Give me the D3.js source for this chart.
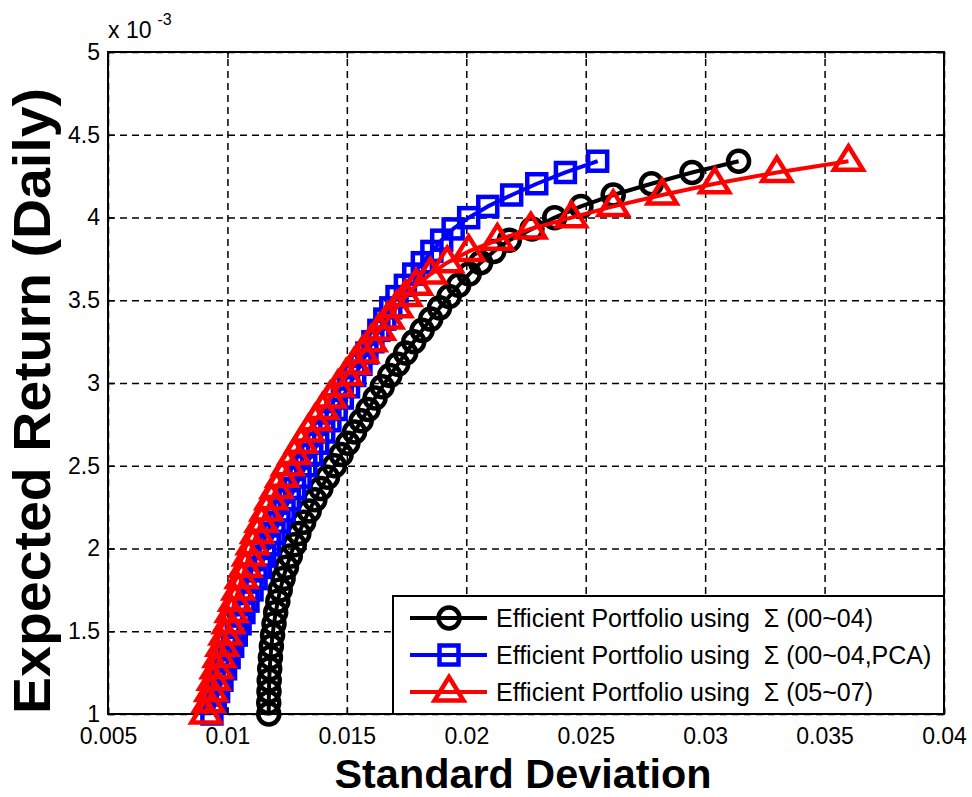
<!DOCTYPE html>
<html>
<head>
<meta charset="utf-8">
<script src="https://cdn.jsdelivr.net/npm/d3@7"></script>
<style>
  body { margin: 0; background: #fff; }
  svg { display: block; font-family: "Liberation Sans", Arial, sans-serif; }
  .grid line { stroke: #000; stroke-width: 1.5; stroke-dasharray: 7, 5; }
  .grid path, .ticks path { display: none; }
  .ticks line { stroke: #000; stroke-width: 1.5; }
  .ticks text { font-size: 23px; fill: #000; font-family: "Liberation Sans", Arial, sans-serif; }
</style>
</head>
<body>
<div id="chart"></div>
<script>
// Target returns (daily), shared by all three frontiers.
const returns = [
  0.001000, 0.001068, 0.001136, 0.001204, 0.001273, 0.001341, 0.001409, 0.001477, 0.001545, 0.001613,
  0.001682, 0.001750, 0.001818, 0.001886, 0.001954, 0.002022, 0.002091, 0.002159, 0.002227, 0.002295,
  0.002363, 0.002431, 0.002500, 0.002568, 0.002636, 0.002704, 0.002772, 0.002840, 0.002909, 0.002977,
  0.003045, 0.003113, 0.003181, 0.003249, 0.003318, 0.003386, 0.003454, 0.003522, 0.003590, 0.003658,
  0.003727, 0.003795, 0.003863, 0.003931, 0.003999, 0.004067, 0.004136, 0.004204, 0.004272, 0.004340
];

// Standard deviation, Σ (00~04)
const sdSigma0004 = [
  0.01173, 0.01173, 0.01174, 0.01175, 0.01177, 0.01180, 0.01184, 0.01189, 0.01195, 0.01202,
  0.01211, 0.01221, 0.01233, 0.01247, 0.01263, 0.01280, 0.01299, 0.01319, 0.01342, 0.01366,
  0.01391, 0.01419, 0.01448, 0.01476, 0.01504, 0.01532, 0.01560, 0.01589, 0.01618, 0.01648,
  0.01680, 0.01713, 0.01746, 0.01780, 0.01815, 0.01851, 0.01888, 0.01928, 0.01968, 0.02012,
  0.02060, 0.02115, 0.02180, 0.02275, 0.02370, 0.02480, 0.02615, 0.02775, 0.02945, 0.03140
];

// Standard deviation, Σ (00~04,PCA)
const sdSigmaPCA = [
  0.00935, 0.00949, 0.00963, 0.00977, 0.00992, 0.01007, 0.01022, 0.01037, 0.01053, 0.01069,
  0.01086, 0.01103, 0.01120, 0.01138, 0.01156, 0.01175, 0.01195, 0.01216, 0.01237, 0.01259,
  0.01281, 0.01304, 0.01328, 0.01353, 0.01378, 0.01403, 0.01429, 0.01455, 0.01481, 0.01507,
  0.01533, 0.01559, 0.01584, 0.01609, 0.01634, 0.01659, 0.01684, 0.01710, 0.01745, 0.01780,
  0.01816, 0.01856, 0.01897, 0.01945, 0.02010, 0.02090, 0.02190, 0.02295, 0.02415, 0.02550
];

// Standard deviation, Σ (05~07)
const sdSigma0507 = [
  0.00910, 0.00921, 0.00932, 0.00943, 0.00955, 0.00967, 0.00979, 0.00992, 0.01005, 0.01018,
  0.01032, 0.01046, 0.01060, 0.01075, 0.01090, 0.01106, 0.01124, 0.01143, 0.01163, 0.01184,
  0.01206, 0.01229, 0.01253, 0.01280, 0.01308, 0.01337, 0.01367, 0.01398, 0.01430, 0.01463,
  0.01497, 0.01531, 0.01565, 0.01600, 0.01635, 0.01671, 0.01708, 0.01746, 0.01790, 0.01850,
  0.01920, 0.02010, 0.02130, 0.02270, 0.02440, 0.02615, 0.02820, 0.03040, 0.03300, 0.03600
];

const seriesNames = [
  "Efficient Portfolio using  \u03A3 (00~04)",
  "Efficient Portfolio using  \u03A3 (00~04,PCA)",
  "Efficient Portfolio using  \u03A3 (05~07)"
];
const seriesColors = ["#000000", "#0000ff", "#ff0000"];
const seriesMarkers = ["circle", "square", "triangle"];

const xTicks = [0.005, 0.01, 0.015, 0.02, 0.025, 0.03, 0.035, 0.04];
const yTicks = [0.001, 0.0015, 0.002, 0.0025, 0.003, 0.0035, 0.004, 0.0045, 0.005];
const yTickLabels = ["1", "1.5", "2", "2.5", "3", "3.5", "4", "4.5", "5"];

// Dimensions of chart.
let margin = { top: 52, right: 28, bottom: 83, left: 108 },
  width = 972 - margin.left - margin.right,
  height = 797 - margin.top - margin.bottom;

let root = d3
  .select("#chart")
  .append("svg")
  .attr("width", width + margin.left + margin.right)
  .attr("height", height + margin.top + margin.bottom);

let svg = root
  .append("g")
  .attr("transform", "translate(" + margin.left + "," + margin.top + ")");

// Scales
let x = d3.scaleLinear().domain([0.005, 0.04]).range([0, width]);
let y = d3.scaleLinear().domain([0.001, 0.005]).range([height, 0]);

// Grid (dashed)
svg
  .append("g")
  .attr("class", "grid")
  .attr("transform", "translate(0," + height + ")")
  .call(d3.axisBottom(x).tickValues(xTicks).tickSize(-height).tickFormat(""));
svg
  .append("g")
  .attr("class", "grid")
  .call(d3.axisLeft(y).tickValues(yTicks).tickSize(-width).tickFormat(""));

// Inward ticks + labels
svg
  .append("g")
  .attr("class", "ticks")
  .attr("transform", "translate(0," + height + ")")
  .call(d3.axisBottom(x).tickValues(xTicks).tickSize(-6).tickPadding(14).tickFormat((d) => String(d)));
svg
  .append("g")
  .attr("class", "ticks")
  .call(d3.axisTop(x).tickValues(xTicks).tickSize(-6).tickFormat(""));
svg
  .append("g")
  .attr("class", "ticks")
  .call(
    d3.axisLeft(y).tickValues(yTicks).tickSize(-6).tickPadding(8)
      .tickFormat((d, i) => yTickLabels[i])
  );
svg
  .append("g")
  .attr("class", "ticks")
  .attr("transform", "translate(" + width + ",0)")
  .call(d3.axisRight(y).tickValues(yTicks).tickSize(-6).tickFormat(""));

// Axes box
svg
  .append("rect")
  .attr("width", width)
  .attr("height", height)
  .attr("fill", "none")
  .attr("stroke", "#000")
  .attr("stroke-width", 2);

// Exponent label
let expo = root
  .append("text")
  .attr("x", margin.left)
  .attr("y", 38)
  .style("font-size", "23px")
  .text("x 10");
expo
  .append("tspan")
  .attr("dx", 6)
  .attr("dy", -13)
  .style("font-size", "16px")
  .text("-3");

// Marker drawing
function addMarker(sel, kind, color) {
  if (kind === "circle") {
    sel.append("circle").attr("r", 10.5);
  } else if (kind === "square") {
    sel.append("rect").attr("x", -9.5).attr("y", -9.5).attr("width", 19).attr("height", 19);
  } else {
    sel.append("path").attr("d", "M0,-15L14.5,8.5L-14.5,8.5Z");
  }
  sel
    .selectAll("*")
    .attr("fill", "none")
    .attr("stroke", color)
    .attr("stroke-width", 4.5)
    .attr("stroke-linejoin", "miter");
}

let allSd = [sdSigma0004, sdSigmaPCA, sdSigma0507];
let line = d3
  .line()
  .x((d) => x(d.sd))
  .y((d) => y(d.ret));

allSd.forEach(function (sds, s) {
  let pts = sds.map((v, i) => ({ sd: v, ret: returns[i] }));
  let g = svg.append("g");
  g.append("path")
    .datum(pts)
    .attr("d", line)
    .attr("fill", "none")
    .attr("stroke", seriesColors[s])
    .attr("stroke-width", 4)
    .attr("stroke-linejoin", "round");
  g.selectAll("g.m")
    .data(pts)
    .join("g")
    .attr("class", "m")
    .attr("transform", (d) => "translate(" + x(d.sd) + "," + y(d.ret) + ")")
    .each(function () {
      addMarker(d3.select(this), seriesMarkers[s], seriesColors[s]);
    });
});

// Legend
let lgX = 393 - margin.left,
  lgY = 596 - margin.top,
  lgW = 944 - 393,
  lgH = 714 - 596;
let legend = svg.append("g").attr("transform", "translate(" + lgX + "," + lgY + ")");
legend
  .append("rect")
  .attr("width", lgW)
  .attr("height", lgH)
  .attr("fill", "#fff")
  .attr("stroke", "#000")
  .attr("stroke-width", 2);
seriesNames.forEach(function (name, s) {
  let row = legend.append("g").attr("transform", "translate(0," + (22 + s * 37) + ")");
  row
    .append("line")
    .attr("x1", 17)
    .attr("x2", 94)
    .attr("stroke", seriesColors[s])
    .attr("stroke-width", 4);
  addMarker(row.append("g").attr("transform", "translate(56,0)"), seriesMarkers[s], seriesColors[s]);
  row
    .append("text")
    .attr("x", 103)
    .attr("y", 9)
    .style("font-size", "25px")
    .style("white-space", "pre")
    .text(name);
});

// Axis titles
root
  .append("text")
  .attr("x", 523)
  .attr("y", 788)
  .attr("text-anchor", "middle")
  .attr("textLength", 377)
  .attr("lengthAdjust", "spacingAndGlyphs")
  .style("font-size", "41px")
  .style("font-weight", "bold")
  .text("Standard Deviation");

root
  .append("text")
  .attr("transform", "translate(50,401) rotate(-90)")
  .attr("text-anchor", "middle")
  .attr("textLength", 626)
  .attr("lengthAdjust", "spacingAndGlyphs")
  .style("font-size", "51px")
  .style("font-weight", "bold")
  .text("Expected Return (Daily)");
</script>
</body>
</html>
